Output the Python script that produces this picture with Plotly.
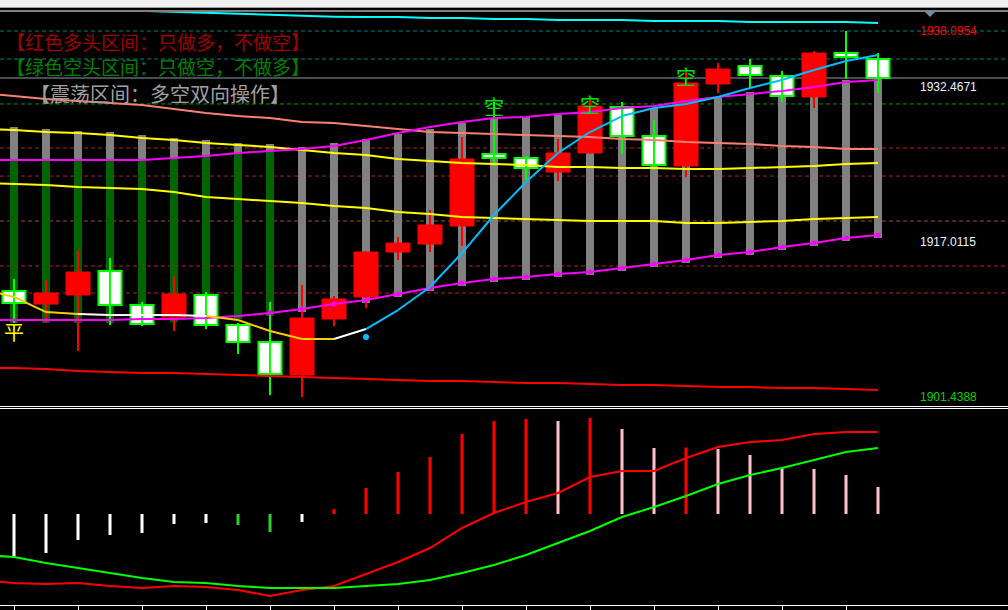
import plotly.graph_objects as go

# ---------------- data ----------------
bars = list(range(28))            # visible candles
line_x = list(range(-1, 28))      # indicator lines start one bar before the first visible candle

open_ = [1912.06, 1910.75, 1911.66, 1914.06, 1910.65, 1909.45, 1911.66, 1908.65, 1906.95, 1903.64,
         1909.25, 1911.46, 1915.96, 1916.76, 1918.57, 1925.78, 1925.38, 1923.97, 1925.88, 1930.48,
         1927.58, 1924.58, 1932.79, 1934.59, 1933.59, 1931.49, 1935.89, 1935.29]
high = [1913.26, 1913.16, 1916.16, 1915.36, 1910.95, 1913.56, 1911.96, 1908.85, 1910.95, 1912.66,
        1911.56, 1916.06, 1917.46, 1920.17, 1927.48, 1930.99, 1925.58, 1927.28, 1931.29, 1930.99,
        1929.18, 1934.19, 1934.89, 1935.29, 1934.09, 1936.09, 1938.0954, 1935.89]
low = [1908.85, 1908.85, 1906.05, 1908.65, 1908.55, 1908.05, 1908.25, 1905.75, 1901.64, 1901.4388,
       1908.55, 1910.35, 1915.16, 1915.96, 1916.56, 1924.58, 1923.17, 1923.07, 1925.78, 1925.78,
       1924.17, 1923.47, 1931.89, 1932.39, 1930.99, 1930.38, 1933.29, 1931.89]
close = [1910.86, 1911.86, 1913.96, 1910.65, 1908.75, 1911.76, 1908.65, 1906.95, 1903.74, 1909.35,
         1911.26, 1915.96, 1916.86, 1918.67, 1925.28, 1925.38, 1924.38, 1925.88, 1930.58, 1927.58,
         1924.68, 1932.89, 1934.29, 1933.69, 1931.59, 1935.89, 1935.49, 1933.39]

band_top = [1928.48, 1928.28, 1928.08, 1927.98, 1927.68, 1927.38, 1927.18, 1926.88, 1926.78, 1926.48,
            1926.88, 1927.28, 1927.78, 1928.28, 1928.88, 1929.38, 1929.48, 1929.68, 1929.88, 1930.18,
            1930.38, 1930.88, 1931.49, 1931.99, 1932.29, 1932.59, 1933.19, 1933.39]
band_low = [1908.85, 1908.85, 1908.85, 1908.85, 1908.95, 1908.95, 1909.05, 1909.25, 1909.55, 1909.95,
            1910.45, 1910.85, 1911.46, 1912.06, 1912.56, 1912.96, 1913.16, 1913.46, 1913.66, 1914.06,
            1914.46, 1914.86, 1915.36, 1915.66, 1916.16, 1916.56, 1917.06, 1917.36]
regime = ["bear"] * 9 + ["range"] * 19

upper_band = [1925.18, 1925.18, 1925.18, 1925.18, 1925.18, 1925.18, 1925.38, 1925.58, 1925.88, 1926.08,
              1926.28, 1926.58, 1927.18, 1927.88, 1928.48, 1928.98, 1929.38, 1929.48, 1929.78, 1929.98,
              1930.38, 1930.58, 1931.08, 1931.49, 1931.79, 1932.09, 1932.49, 1932.99, 1933.19]
lower_band = [1909.15, 1909.15, 1909.15, 1909.15, 1909.15, 1909.25, 1909.25, 1909.35, 1909.55, 1909.85,
              1910.25, 1910.75, 1911.16, 1911.76, 1912.36, 1912.86, 1913.26, 1913.46, 1913.76, 1913.96,
              1914.36, 1914.76, 1915.16, 1915.66, 1915.96, 1916.46, 1916.86, 1917.36, 1917.66]
salmon_ma = [1931.89, 1931.59, 1931.29, 1931.08, 1930.88, 1930.68, 1930.28, 1929.88, 1929.58, 1929.38,
             1928.98, 1928.88, 1928.58, 1928.28, 1927.98, 1927.88, 1927.78, 1927.68, 1927.58, 1927.48,
             1927.28, 1927.18, 1926.98, 1926.88, 1926.78, 1926.58, 1926.48, 1926.28, 1926.28]
yellow_up = [1928.28, 1928.18, 1927.98, 1927.88, 1927.68, 1927.38, 1927.18, 1926.88, 1926.68, 1926.48,
             1926.18, 1925.88, 1925.68, 1925.28, 1925.08, 1924.88, 1924.78, 1924.68, 1924.47, 1924.47,
             1924.37, 1924.37, 1924.27, 1924.27, 1924.37, 1924.47, 1924.57, 1924.78, 1924.88]
yellow_dn = [1922.87, 1922.77, 1922.67, 1922.47, 1922.37, 1922.27, 1921.97, 1921.47, 1921.27, 1921.07,
             1920.87, 1920.57, 1920.37, 1919.97, 1919.77, 1919.47, 1919.37, 1919.27, 1919.17, 1919.07,
             1919.07, 1919.07, 1918.87, 1918.87, 1918.97, 1919.07, 1919.27, 1919.37, 1919.47]
red_floor = [1904.35, 1904.35, 1904.25, 1904.04, 1903.94, 1903.84, 1903.84, 1903.74, 1903.64, 1903.54,
             1903.44, 1903.34, 1903.24, 1903.14, 1903.04, 1903.04, 1902.94, 1902.84, 1902.84, 1902.74,
             1902.64, 1902.64, 1902.54, 1902.44, 1902.44, 1902.34, 1902.34, 1902.24, 1902.14]
cyan_ceiling = [1940.60, 1940.50, 1940.40, 1940.30, 1940.20, 1940.10, 1940.00, 1939.93, 1939.80, 1939.70,
                1939.63, 1939.53, 1939.50, 1939.50, 1939.40, 1939.40, 1939.30, 1939.30, 1939.20, 1939.20,
                1939.20, 1939.10, 1939.10, 1939.10, 1939.00, 1939.00, 1939.00, 1939.00, 1938.90]
trend_ma = [1912.26, 1911.46, 1909.95, 1909.75, 1909.65, 1909.65, 1909.65, 1909.55, 1909.15, 1908.05,
            1907.25, 1907.25, 1908.25, 1910.15, 1912.46, 1915.86, 1919.67, 1922.97, 1925.88, 1927.98,
            1929.58, 1930.38, 1930.78, 1931.49, 1932.39, 1933.19, 1934.19, 1935.09, 1935.69]
trend_state = ["down"] * 3 + ["flat"] * 4 + ["down"] * 4 + ["flat"] + ["up"] * 16   # per segment
signal_dot_bar = [11]
signal_dot_price = [1907.45]

kong_bars = [15, 18, 21]
kong_prices = [1930.18, 1930.38, 1933.19]
ping_bars = [0]
ping_prices = [1907.65]

level_prices = [1938.0954, 1935.29, close[-1], 1930.79, 1926.38, 1923.57, 1919.07, 1914.56, 1911.86]
level_kind = ["teal", "teal", "bid", "green", "red", "red", "brown", "red", "red"]
label_prices = [1938.0954, 1932.4671, 1917.0115, 1901.4388]
label_kind = ["red", "white", "white", "green"]

hist = [-0.43, -0.39, -0.26, -0.21, -0.19, -0.10, -0.09, -0.11, -0.18, -0.08,
        0.05, 0.26, 0.42, 0.57, 0.80, 0.93, 0.95, 0.93, 0.96, 0.85,
        0.66, 0.665, 0.65, 0.59, 0.46, 0.45, 0.39, 0.27]
osc_red = [-0.66, -0.69, -0.70, -0.69, -0.72, -0.74, -0.72, -0.73, -0.76, -0.82,
           -0.76, -0.72, -0.60, -0.48, -0.34, -0.14, 0.01, 0.12, 0.21, 0.37,
           0.43, 0.43, 0.56, 0.67, 0.72, 0.74, 0.80, 0.82, 0.82]
osc_green = [-0.41, -0.43, -0.49, -0.54, -0.59, -0.64, -0.68, -0.69, -0.72, -0.74,
             -0.74, -0.74, -0.72, -0.70, -0.66, -0.59, -0.51, -0.41, -0.29, -0.17,
             -0.03, 0.07, 0.18, 0.30, 0.39, 0.46, 0.54, 0.62, 0.66]

# ---------------- figure ----------------
W, H = 1008, 610
fig = go.Figure()

# channel bars (gray), with green part for bearish regime
fig.add_trace(go.Bar(x=bars, y=[t - l for t, l in zip(band_top, band_low)], base=band_low,
                     width=0.25, marker=dict(color="#808080", line=dict(width=0)),
                     hoverinfo="skip"))
gx = [i for i in bars if regime[i] == "bear"]
fig.add_trace(go.Bar(x=gx, y=[upper_band[i + 1] - band_low[i] for i in gx], base=[band_low[i] for i in gx],
                     width=0.25, marker=dict(color="#006400", line=dict(width=0)), hoverinfo="skip"))

# candles
up_idx = [i for i in bars if close[i] >= open_[i]]
dn_idx = [i for i in bars if close[i] < open_[i]]


def wick_xy(idx):
    xs, ys = [], []
    for i in idx:
        xs += [i, i, None]
        ys += [low[i], high[i], None]
    return xs, ys


wx, wy = wick_xy(up_idx)
fig.add_trace(go.Scatter(x=wx, y=wy, mode="lines", line=dict(color="#ff0000", width=2), hoverinfo="skip"))
wx, wy = wick_xy(dn_idx)
fig.add_trace(go.Scatter(x=wx, y=wy, mode="lines", line=dict(color="#00ff00", width=2), hoverinfo="skip"))
fig.add_trace(go.Bar(x=up_idx, y=[close[i] - open_[i] for i in up_idx], base=[open_[i] for i in up_idx],
                     width=0.75, marker=dict(color="#ff0000", line=dict(color="#ff0000", width=1)),
                     hoverinfo="skip"))
fig.add_trace(go.Bar(x=dn_idx, y=[open_[i] - close[i] for i in dn_idx], base=[close[i] for i in dn_idx],
                     width=0.72, marker=dict(color="#ffffff", line=dict(color="#00ff00", width=2)),
                     hoverinfo="skip"))

# indicator lines
def add_line(ys, color, width=2):
    fig.add_trace(go.Scatter(x=line_x, y=ys, mode="lines", line=dict(color=color, width=width),
                             hoverinfo="skip"))


add_line(salmon_ma, "#fa8072")
add_line(yellow_up, "#ffff00")
add_line(yellow_dn, "#ffff00")
add_line(upper_band, "#ff00ff")
add_line(lower_band, "#ff00ff")
add_line(red_floor, "#ff0000")
add_line(cyan_ceiling, "#00ffff")

fig.add_trace(go.Scatter(x=[line_x[i + 1] for i in range(8, 28)], y=[lower_band[i + 1] for i in range(8, 28)],
                         mode="markers", marker=dict(color="#ff00ff", size=5), hoverinfo="skip"))

state_color = {"down": "#ffcc00", "flat": "#ffffff", "up": "#00bfff"}
for st, col in state_color.items():
    xs, ys = [], []
    for k, s in enumerate(trend_state):
        if s == st:
            xs += [line_x[k], line_x[k + 1], None]
            ys += [trend_ma[k], trend_ma[k + 1], None]
    fig.add_trace(go.Scatter(x=xs, y=ys, mode="lines", line=dict(color=col, width=2), hoverinfo="skip"))
fig.add_trace(go.Scatter(x=signal_dot_bar, y=signal_dot_price, mode="markers",
                         marker=dict(color="#00bfff", size=6), hoverinfo="skip"))

# signal glyphs
fig.add_trace(go.Scatter(x=kong_bars, y=kong_prices, mode="text", text=["空"] * len(kong_bars),
                         textfont=dict(family="Noto Sans CJK SC", size=20, color="#00e000"),
                         textposition="middle center", hoverinfo="skip"))
fig.add_trace(go.Scatter(x=ping_bars, y=ping_prices, mode="text", text=["平"] * len(ping_bars),
                         textfont=dict(family="Noto Sans CJK SC", size=20, color="#ffff00"),
                         textposition="middle center", hoverinfo="skip"))

# lower oscillator panel
hcol = []
for i, v in enumerate(hist):
    rising = i == 0 or v >= hist[i - 1]
    if v >= 0:
        hcol.append("#ff0000" if rising else "#ffc0cb")
    else:
        hcol.append("#ffffff" if rising else "#33cc33")
fig.add_trace(go.Bar(x=bars, y=hist, base=0, width=0.095, marker=dict(color=hcol, line=dict(width=0)),
                     xaxis="x2", yaxis="y2", hoverinfo="skip"))
fig.add_trace(go.Scatter(x=line_x, y=osc_red, mode="lines", line=dict(color="#ff0000", width=2),
                         xaxis="x2", yaxis="y2", hoverinfo="skip"))
fig.add_trace(go.Scatter(x=line_x, y=osc_green, mode="lines", line=dict(color="#00ff00", width=2),
                         xaxis="x2", yaxis="y2", hoverinfo="skip"))

# ---------------- layout ----------------
def py(px):
    return 1 - px / H


xr = [-0.4375, 31.0625]
shapes = []
style = {
    "teal": dict(color="#008080", dash="4px,3px"),
    "bid": dict(color="#8c99a6", dash="solid"),
    "green": dict(color="#009900", dash="4px,3px"),
    "red": dict(color="#b22222", dash="4px,3px"),
    "brown": dict(color="#a0522d", dash="4px,3px"),
}
for p, k in zip(level_prices, level_kind):
    shapes.append(dict(type="line", xref="paper", yref="y", x0=0, x1=1, y0=p, y1=p, layer="below",
                       line=dict(color=style[k]["color"], width=1, dash=style[k]["dash"])))
shapes += [
    dict(type="rect", xref="paper", yref="paper", x0=0, x1=1, y0=py(7), y1=1,
         fillcolor="#f0f0f0", line=dict(width=0)),
    dict(type="line", xref="paper", yref="paper", x0=0, x1=1, y0=py(7.5), y1=py(7.5),
         line=dict(color="#a0a0a0", width=1)),
    dict(type="line", xref="paper", yref="paper", x0=0, x1=1, y0=py(11), y1=py(11),
         line=dict(color="#ffffff", width=1)),
    dict(type="line", xref="paper", yref="paper", x0=0, x1=1, y0=py(406.5), y1=py(406.5),
         line=dict(color="#ffffff", width=1)),
    dict(type="line", xref="paper", yref="paper", x0=0, x1=1, y0=py(408.5), y1=py(408.5),
         line=dict(color="#ffffff", width=1)),
    dict(type="path", xref="paper", yref="paper",
         path=f"M {924/W},{py(11)} L {936/W},{py(11)} L {930/W},{py(17)} Z",
         fillcolor="#7a8a9a", line=dict(width=0)),
]

label_color = {"red": "#ff0000", "white": "#f0f4ff", "green": "#00d000"}
annotations = [
    dict(text="【红色多头区间：只做多，不做空】", xref="paper", yref="paper", x=4 / W, y=py(41),
         xanchor="left", yanchor="middle", showarrow=False,
         font=dict(family="Noto Sans CJK SC", size=19, color="#a00000")),
    dict(text="【绿色空头区间：只做空，不做多】", xref="paper", yref="paper", x=4 / W, y=py(67),
         xanchor="left", yanchor="middle", showarrow=False,
         font=dict(family="Noto Sans CJK SC", size=19, color="#008000")),
    dict(text="【震荡区间：多空双向操作】", xref="paper", yref="paper", x=28 / W, y=py(94),
         xanchor="left", yanchor="middle", showarrow=False,
         font=dict(family="Noto Sans CJK SC", size=20, color="#a0a0a0")),
]
for p, k in zip(label_prices, label_kind):
    annotations.append(dict(text=f"{p:.4f}", xref="paper", yref="y", x=918 / W, y=p,
                            xanchor="left", yanchor="middle", showarrow=False,
                            font=dict(family="Liberation Sans Narrow, Liberation Sans", size=12,
                                      color=label_color[k])))

fig.update_layout(
    width=W, height=H, margin=dict(l=0, r=0, t=0, b=0, pad=0),
    paper_bgcolor="#000000", plot_bgcolor="#000000", showlegend=False, barmode="overlay",
    font=dict(family="Noto Sans CJK SC"),
    xaxis=dict(domain=[0, 1], range=xr, visible=False, anchor="y"),
    yaxis=dict(domain=[py(405), py(12)], range=[1900.64, 1940.00], visible=False, anchor="x"),
    xaxis2=dict(domain=[0, 1], range=xr, anchor="y2", showgrid=False, zeroline=False, showline=True,
                linecolor="#ffffff", linewidth=1, ticks="outside", ticklen=4, tickcolor="#ffffff",
                tickwidth=1, tickvals=list(range(0, 28, 2)), showticklabels=False),
    yaxis2=dict(domain=[py(605), py(409)], range=[-0.91, 1.05], visible=False, anchor="x2"),
    shapes=shapes, annotations=annotations,
)

fig.write_html("out.html", config={"displayModeBar": False},
               post_script="document.body.style.margin='0';document.body.style.overflow='hidden';")
